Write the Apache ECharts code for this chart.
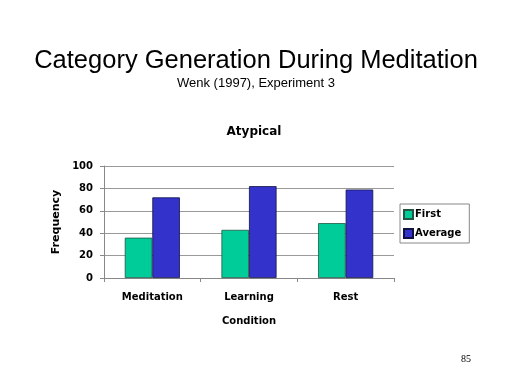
<!DOCTYPE html>
<html><head><meta charset="utf-8">
<script src="https://cdn.jsdelivr.net/npm/echarts@6/dist/echarts.min.js"></script>
<style>html,body{margin:0;padding:0;background:#fff}#c{width:512px;height:384px}</style>
</head><body><div id="c"></div>
<script>
const categories = ['Meditation', 'Learning', 'Rest'];
const firstValues = [36, 43, 49];
const averageValues = [72, 82, 79];
const yTicks = [0, 20, 40, 60, 80, 100];

const lab = 'DejaVu Sans';
const chart = echarts.init(document.getElementById('c'), null, {renderer: 'canvas'});
chart.setOption({
  animation: false,
  backgroundColor: '#fff',
  title: [
    {text: 'Category Generation During Meditation', left: 'center', top: 43,
     textStyle: {fontFamily: 'Liberation Sans, Arial', fontSize: 25.5, fontWeight: 'normal', color: '#000'}},
    {text: 'Wenk (1997), Experiment 3', left: 'center', top: 72,
     textStyle: {fontFamily: 'Liberation Sans, Arial', fontSize: 13, fontWeight: 'normal', color: '#000'}},
    {text: 'Atypical', left: 249, textAlign: 'center', top: 121,
     textStyle: {fontFamily: lab, fontSize: 12, fontWeight: 'bold', color: '#000'}},
    {text: '85', left: 456, top: 349,
     textStyle: {fontFamily: 'Liberation Serif, Times New Roman', fontSize: 10, fontWeight: 'normal', color: '#000'}}
  ],
  legend: {
    orient: 'vertical', left: 400, top: 204, itemWidth: 9, itemHeight: 9, itemGap: 8,
    icon: 'rect',
    borderColor: '#888', borderWidth: 1, padding: [5, 8, 4, 3],
    textStyle: {fontFamily: lab, fontSize: 10, fontWeight: 'bold', color: '#000', padding: [0, 0, 0, -3]},
    data: ['First', 'Average']
  },
  grid: {left: 104, right: 118, top: 166, bottom: 106, containLabel: false},
  xAxis: {
    type: 'category', data: categories,
    name: 'Condition', nameLocation: 'middle', nameGap: 38,
    nameTextStyle: {fontFamily: lab, fontSize: 10, fontWeight: 'bold', color: '#000'},
    axisLine: {lineStyle: {color: '#888'}},
    axisTick: {show: true, length: 4, lineStyle: {color: '#888'}},
    axisLabel: {margin: 14, fontFamily: lab, fontSize: 10, fontWeight: 'bold', color: '#000'}
  },
  yAxis: {
    type: 'value', min: 0, max: 100, interval: 20,
    name: 'Frequency', nameLocation: 'middle', nameGap: 41, nameRotate: 90,
    nameTextStyle: {fontFamily: lab, fontSize: 11, fontWeight: 'bold', color: '#000'},
    axisLine: {show: true, lineStyle: {color: '#888'}},
    axisTick: {show: true, length: 4, lineStyle: {color: '#888'}},
    splitLine: {lineStyle: {color: '#999'}},
    axisLabel: {margin: 11, fontFamily: lab, fontSize: 10, fontWeight: 'bold', color: '#000',
      formatter: v => yTicks.includes(v) ? String(v) : ''}
  },
  series: [
    {name: 'First', type: 'bar', data: firstValues, barGap: '0%', barCategoryGap: '43%',
     itemStyle: {color: '#00CC99', borderColor: '#225544', borderWidth: 0.8}},
    {name: 'Average', type: 'bar', data: averageValues, barGap: '0%', barCategoryGap: '43%',
     itemStyle: {color: '#3333CC', borderColor: '#111144', borderWidth: 0.8}}
  ]
});
</script></body></html>
